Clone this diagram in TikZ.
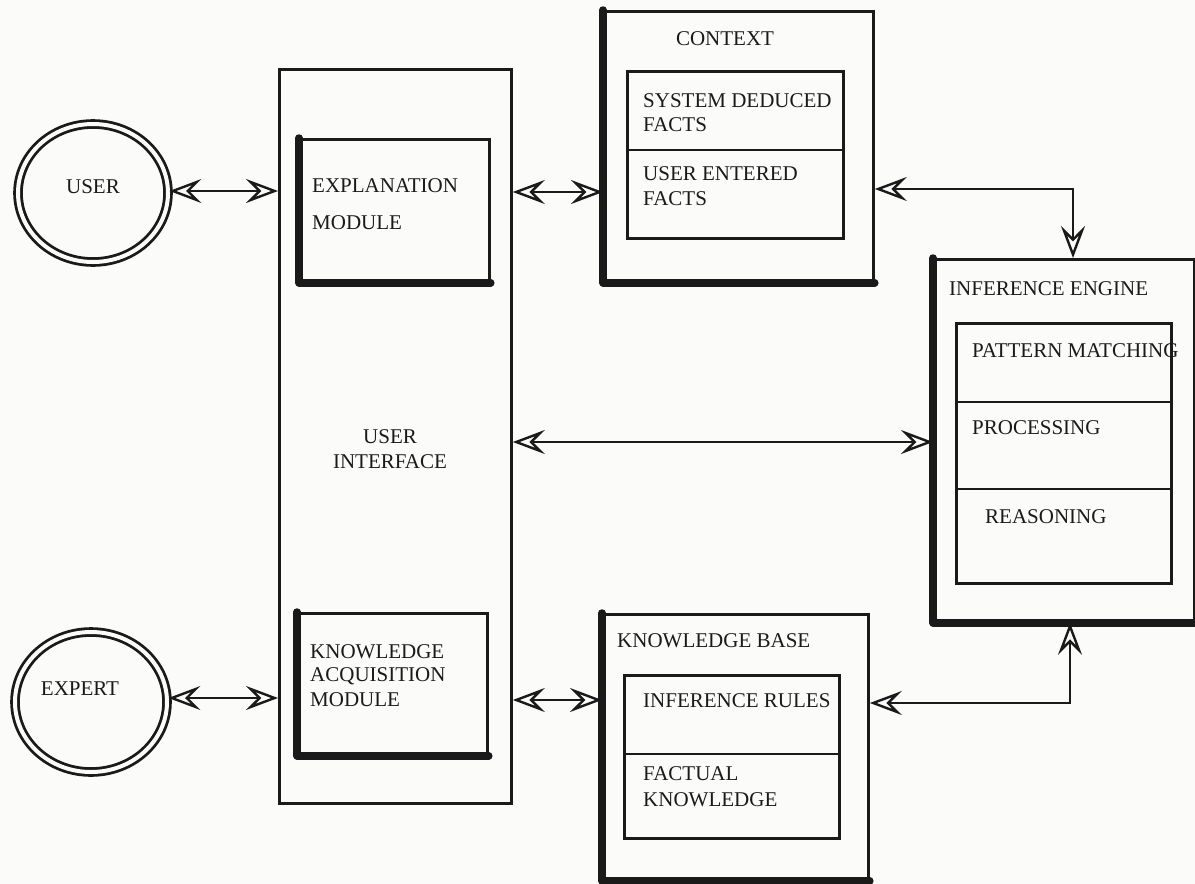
\documentclass[tikz,border=0pt]{standalone}
\usepackage{fontspec}
\setmainfont{Liberation Serif}
\usetikzlibrary{arrows.meta,shapes.geometric}
\definecolor{ink}{HTML}{1A1A1A}
\definecolor{paper}{HTML}{FBFBFA}
\begin{document}
\begin{tikzpicture}[x=1pt,y=-1pt,
  box/.style={draw=ink, line width=2.8pt, rectangle, anchor=north west, inner sep=0pt},
  heavy/.style={draw=ink, line width=7.5pt, line cap=round, line join=round},
  lbl/.style={font=\fontsize{21}{24}\selectfont, anchor=west, inner sep=0pt, text=ink},
  clbl/.style={font=\fontsize{21}{24}\selectfont, anchor=center, inner sep=0pt, text=ink, align=center},
  conn/.style={draw=ink, line width=2.6pt, {Stealth[open, length=32pt, width=24pt, inset=12pt, line width=2.4pt]}-{Stealth[open, length=32pt, width=24pt, inset=12pt, line width=2.4pt]}},
  actor/.style={ellipse, draw=ink, double=paper, double distance=4pt, line width=2.8pt, inner sep=0pt}
]
\fill[paper] (0,0) rectangle (1195,884);
\useasboundingbox (0,0) rectangle (1195,884);

% actors
\node[actor, minimum width=150pt, minimum height=138pt] (user) at (93,193) {};
\node[clbl] (userl) at (93,187) {USER};
\node[actor, minimum width=152pt, minimum height=140pt] (expert) at (91,702) {};
\node[clbl] (expertl) at (80,689) {EXPERT};

% user interface
\node[box, minimum width=232pt, minimum height=734pt] (ui) at (278,68) {};
\node[clbl] (uil) at (390,449) {USER\\[1pt]INTERFACE};

% explanation module
\node[box, minimum width=189pt, minimum height=142pt] (expl) at (299,138) {};
\draw[heavy] (expl.north west) -- (expl.south west) -- (expl.south east);
\node[lbl] (expll1) at (312,186) {EXPLANATION};
\node[lbl] (expll2) at (312,223) {MODULE};

% knowledge acquisition module
\node[box, minimum width=189pt, minimum height=141pt] (kam) at (297,612) {};
\draw[heavy] (kam.north west) -- (kam.south west) -- (kam.south east);
\node[lbl] (kaml1) at (310,652) {KNOWLEDGE};
\node[lbl] (kaml2) at (310,676) {ACQUISITION};
\node[lbl] (kaml3) at (310,700) {MODULE};

% context
\node[box, minimum width=269pt, minimum height=270pt] (ctx) at (603,10) {};
\draw[heavy] (ctx.north west) -- (ctx.south west) -- (ctx.south east);
\node[clbl] (ctxl) at (725,39) {CONTEXT};
\node[box, minimum width=216pt, minimum height=167pt] (ctxin) at (626,70) {};
\draw[ink, line width=2.8pt] (ctxin.west |- 0,150) coordinate (cd1) -- (cd1 -| ctxin.east);
\node[lbl] (sdf1) at (643,101) {SYSTEM DEDUCED};
\node[lbl] (sdf2) at (643,125) {FACTS};
\node[lbl] (uef1) at (643,174) {USER ENTERED};
\node[lbl] (uef2) at (643,199) {FACTS};

% inference engine
\node[box, minimum width=260pt, minimum height=362pt] (ie) at (933,258) {};
\draw[heavy] (ie.north west) -- (ie.south west) -- (ie.south east);
\node[lbl] (iel) at (949,289) {INFERENCE ENGINE};
\node[box, minimum width=215pt, minimum height=260pt] (iein) at (955,322) {};
\draw[ink, line width=2.8pt] (iein.west |- 0,402) coordinate (id1) -- (id1 -| iein.east);
\draw[ink, line width=2.8pt] (iein.west |- 0,489) coordinate (id2) -- (id2 -| iein.east);
\node[lbl] (pm) at (972,351) {PATTERN MATCHING};
\node[lbl] (pr) at (972,428) {PROCESSING};
\node[lbl] (rs) at (985,517) {REASONING};

% knowledge base
\node[box, minimum width=265pt, minimum height=265pt] (kb) at (602,613) {};
\draw[heavy] (kb.north west) -- (kb.south west) -- (kb.south east);
\node[lbl] (kbl) at (617,641) {KNOWLEDGE BASE};
\node[box, minimum width=215pt, minimum height=163pt] (kbin) at (623,674) {};
\draw[ink, line width=2.8pt] (kbin.west |- 0,754) coordinate (kd1) -- (kd1 -| kbin.east);
\node[lbl] (ir) at (643,701) {INFERENCE RULES};
\node[lbl] (fk1) at (643,774) {FACTUAL};
\node[lbl] (fk2) at (643,800) {KNOWLEDGE};

% connectors
\coordinate (c1) at (0,191);
\draw[conn] (user.east |- c1) -- (ui.west |- c1);
\coordinate (c2) at (0,192);
\draw[conn] (ui.east |- c2) -- (ctx.west |- c2);
\coordinate (c3) at (0,442);
\draw[conn] (ui.east |- c3) -- (ie.west |- c3);
\coordinate (c4) at (0,698);
\draw[conn] (expert.east |- c4) -- (ui.west |- c4);
\coordinate (c5) at (0,700);
\draw[conn] (ui.east |- c5) -- (kb.west |- c5);
\coordinate (c6) at (1073,189);
\draw[conn] (ctx.east |- c6) -- (c6) -- (c6 |- ie.north);
\coordinate (c7) at (1070,703);
\draw[conn] (kb.east |- c7) -- (c7) -- (c7 |- ie.south);
\end{tikzpicture}
\end{document}
